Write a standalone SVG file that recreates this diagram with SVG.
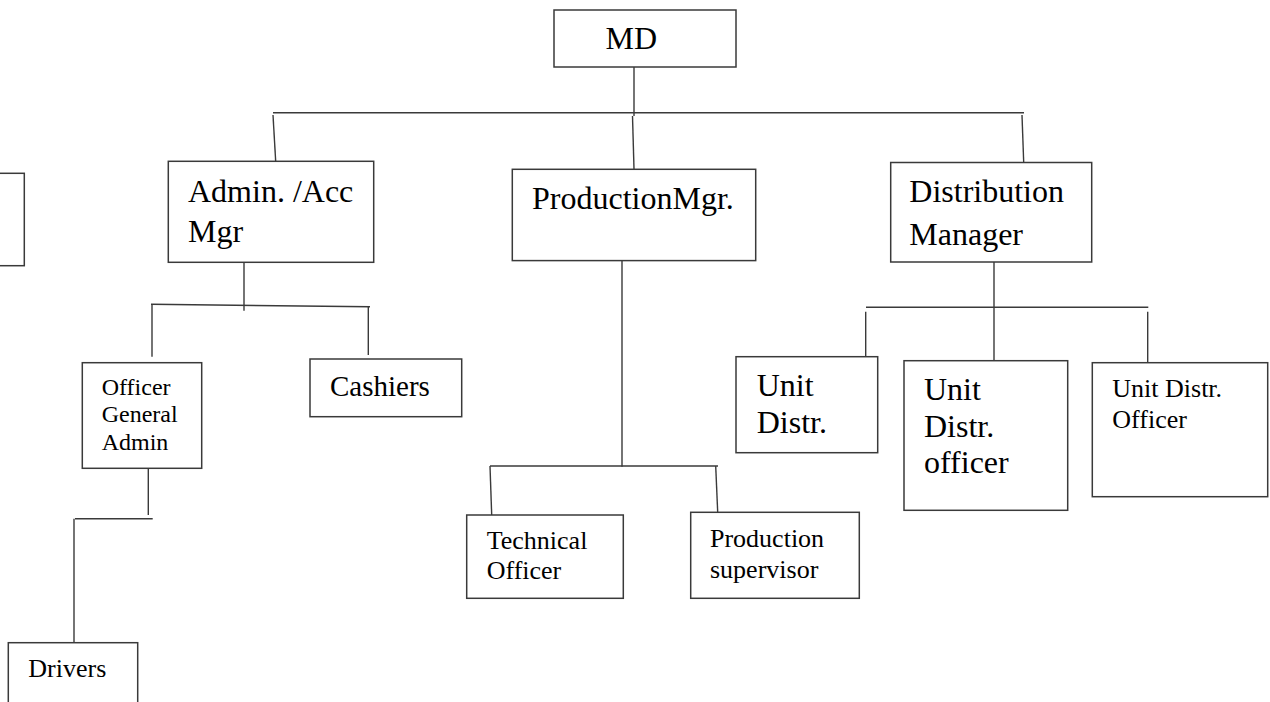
<svg xmlns="http://www.w3.org/2000/svg" width="1270" height="702" viewBox="0 0 1270 702">
<style>
.box{fill:#fff;stroke:#3a3a3a;stroke-width:1.5}
.ln{fill:none;stroke:#3a3a3a;stroke-width:1.4}
text{font-family:"Liberation Serif","Times New Roman",serif;fill:#000}
.f32{font-size:32px}
.f29{font-size:29px}
.f26{font-size:26px}
.f24{font-size:24px}
</style>
<rect width="1270" height="702" fill="#fff"/>
<g id="connectors">
<path class="ln" d="M634 67 V116"/>
<path class="ln" d="M273 112.7 H1024"/>
<path class="ln" d="M273 115 L275.7 161.5"/>
<path class="ln" d="M632.5 116 L634 169"/>
<path class="ln" d="M1022 115 L1023.7 162.5"/>
<path class="ln" d="M244 262 V310.7"/>
<path class="ln" d="M151 304.3 L370 306.7"/>
<path class="ln" d="M152 304.3 V356.7"/>
<path class="ln" d="M368.3 306.7 V355"/>
<path class="ln" d="M148.3 468 V515"/>
<path class="ln" d="M75 518.7 H152.7"/>
<path class="ln" d="M74 518.7 V642.5"/>
<path class="ln" d="M622 261 V466.7"/>
<path class="ln" d="M490 466 H718"/>
<path class="ln" d="M490 466 L491.7 515"/>
<path class="ln" d="M715.7 466 L717.7 512.3"/>
<path class="ln" d="M994 262 V360.7"/>
<path class="ln" d="M866 307.3 H1148.3"/>
<path class="ln" d="M865.7 311.7 V356.7"/>
<path class="ln" d="M1147.7 311.7 V362.7"/>
</g>
<g id="node-md">
<rect class="box" x="554" y="10" width="182" height="57"/>
<text class="f32" x="605.5" y="49.3">MD</text>
</g>
<g id="node-left-partial">
<rect class="box" x="-20" y="173.3" width="44.3" height="92.4"/>
</g>
<g id="node-admin">
<rect class="box" x="168.3" y="161.3" width="205.4" height="101"/>
<text class="f32" x="188" y="201.7">Admin. /Acc</text>
<text class="f32" x="188" y="241.7">Mgr</text>
</g>
<g id="node-production">
<rect class="box" x="512.3" y="169.3" width="243.4" height="91.3"/>
<text class="f32" x="532" y="209.3">ProductionMgr.</text>
</g>
<g id="node-distribution">
<rect class="box" x="890.7" y="162.5" width="201" height="99.5"/>
<text class="f32" x="909.3" y="201.7">Distribution</text>
<text class="f32" x="909.3" y="245">Manager</text>
</g>
<g id="node-officer-general-admin">
<rect class="box" x="82.3" y="362.7" width="119.4" height="105.6"/>
<text class="f24" x="101.7" y="395">Officer</text>
<text class="f24" x="101.7" y="422.3">General</text>
<text class="f24" x="101.7" y="450">Admin</text>
</g>
<g id="node-cashiers">
<rect class="box" x="310" y="359" width="151.7" height="57.7"/>
<text class="f29" x="330" y="396">Cashiers</text>
</g>
<g id="node-drivers">
<rect class="box" x="8.3" y="642.7" width="129.4" height="80"/>
<text class="f26" x="28.3" y="676.7">Drivers</text>
</g>
<g id="node-technical-officer">
<rect class="box" x="466.7" y="515" width="156.6" height="83.3"/>
<text class="f26" x="486.7" y="549.3">Technical</text>
<text class="f26" x="486.7" y="579.3">Officer</text>
</g>
<g id="node-production-supervisor">
<rect class="box" x="690.7" y="512.3" width="168.6" height="86"/>
<text class="f26" x="710" y="547">Production</text>
<text class="f26" x="710" y="577.5">supervisor</text>
</g>
<g id="node-unit-distr">
<rect class="box" x="736" y="356.7" width="141.7" height="96"/>
<text class="f32" x="756.7" y="396">Unit</text>
<text class="f32" x="756.7" y="432.7">Distr.</text>
</g>
<g id="node-unit-distr-officer-lower">
<rect class="box" x="904" y="360.7" width="163.7" height="149.6"/>
<text class="f32" x="924" y="400">Unit</text>
<text class="f32" x="924" y="436.7">Distr.</text>
<text class="f32" x="924" y="473.3">officer</text>
</g>
<g id="node-unit-distr-officer">
<rect class="box" x="1092.3" y="362.7" width="175.4" height="134"/>
<text class="f26" x="1112.3" y="397.3">Unit Distr.</text>
<text class="f26" x="1112.3" y="427.7">Officer</text>
</g>
</svg>
